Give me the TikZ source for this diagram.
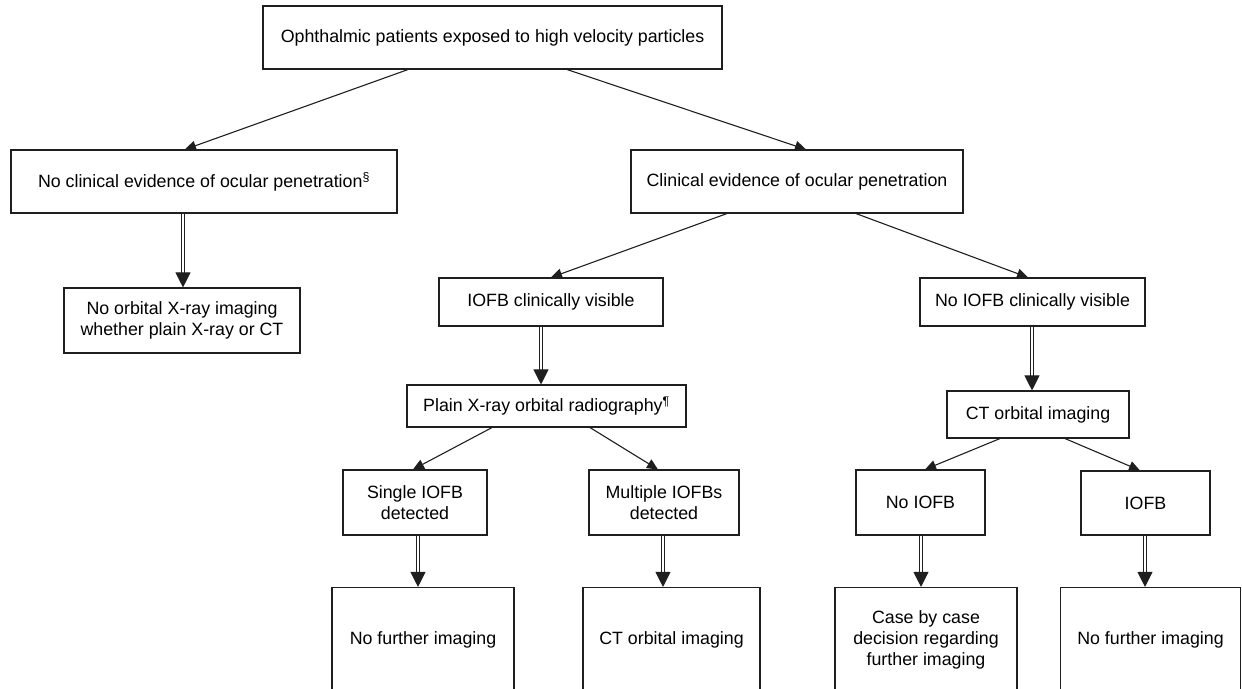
\documentclass[tikz,border=0pt]{standalone}
\usepackage{fontspec}
\setmainfont{Liberation Sans}
\usetikzlibrary{arrows.meta,calc}
\begin{document}
\begin{tikzpicture}[x=1pt,y=-1pt,
  box/.style={draw=black!88, line width=1.1pt, inner sep=0pt, align=center,
    font=\fontsize{17.8}{21.3}\selectfont},
  arr/.style={draw=black!88, line width=1.1pt, -{Triangle[length=11pt,width=10pt]}},
  dblline/.style={draw=black!88, line width=1.1pt, double=white, double distance=2.6pt, shorten >=13pt},
  dbltip/.style={draw=black!88, fill=black!88, line width=1pt, -{Triangle[length=15pt,width=15pt]}}]
\useasboundingbox (0,0) rectangle (1242,688);
\clip (0,0) rectangle (1242,688);
% boxes
\node[box, minimum width=459pt, minimum height=63pt] (top) at (492.5,37.5) {Ophthalmic patients exposed to high velocity particles};
\node[box, minimum width=386pt, minimum height=63pt] (noclin) at (204,181.5) {No clinical evidence of ocular penetration\textsuperscript{§}};
\node[box, minimum width=332pt, minimum height=63pt] (clin) at (797,181.5) {Clinical evidence of ocular penetration};
\node[box, minimum width=236pt, minimum height=65pt] (noorb) at (182,320.5) {No orbital X-ray imaging\\whether plain X-ray or CT};
\node[box, minimum width=224pt, minimum height=48pt] (iofbvis) at (551,302) {IOFB clinically visible};
\node[box, minimum width=225pt, minimum height=48pt] (noiofbvis) at (1032.5,302) {No IOFB clinically visible};
\node[box, minimum width=279pt, minimum height=42pt] (plain) at (546.5,406) {Plain X-ray orbital radiography\textsuperscript{¶}};
\node[box, minimum width=182pt, minimum height=47pt] (ctorb) at (1038,414.5) {CT orbital imaging};
\node[box, minimum width=144pt, minimum height=65pt] (single) at (415,502.5) {Single IOFB\\detected};
\node[box, minimum width=150pt, minimum height=65pt] (multi) at (664,502.5) {Multiple IOFBs\\detected};
\node[box, minimum width=129pt, minimum height=65pt] (noiofb) at (920.5,502.5) {No IOFB};
\node[box, minimum width=129pt, minimum height=64pt] (iofb) at (1145.5,503) {IOFB};
\node[box, minimum width=182pt, minimum height=105pt] (nfia) at (423,640) {No further imaging};
\node[box, minimum width=177pt, minimum height=105pt] (ctbot) at (671.5,640) {CT orbital imaging};
\node[box, minimum width=182pt, minimum height=105pt] (case) at (926,640) {Case by case\\decision regarding\\further imaging};
\node[box, minimum width=180pt, minimum height=105pt] (nfib) at (1150.5,640) {No further imaging};
% single arrows
\draw[arr] ([xshift=-84.5pt]top.south) -- ([xshift=-19pt]noclin.north);
\draw[arr] ([xshift=74.5pt]top.south) -- ([xshift=9pt]clin.north);
\draw[arr] ([xshift=-70pt]clin.south) -- (iofbvis.north);
\draw[arr] ([xshift=59pt]clin.south) -- ([xshift=-4.5pt]noiofbvis.north);
\draw[arr] ([xshift=-54.5pt]plain.south) -- ([xshift=-2pt]single.north);
\draw[arr] ([xshift=43.5pt]plain.south) -- ([xshift=-6pt]multi.north);
\draw[arr] ([xshift=-38pt]ctorb.south) -- ([xshift=4.5pt]noiofb.north);
\draw[arr] ([xshift=27pt]ctorb.south) -- ([xshift=-5.5pt]iofb.north);
% double arrows
\coordinate (xa) at (183,0);
\coordinate (xb) at (541,0);
\coordinate (xc) at (1032,0);
\coordinate (xd) at (418,0);
\coordinate (xe) at (663,0);
\coordinate (xf) at (921,0);
\coordinate (xg) at (1145,0);
\foreach \a/\b/\x in {noclin/noorb/xa, iofbvis/plain/xb, noiofbvis/ctorb/xc,
  single/nfia/xd, multi/ctbot/xe, noiofb/case/xf, iofb/nfib/xg}{
  \draw[dblline] (\a.south -| \x) -- (\b.north -| \x);
  \draw[dbltip] ($(\b.north -| \x)+(0,-2)$) -- (\b.north -| \x);
}
\end{tikzpicture}
\end{document}
